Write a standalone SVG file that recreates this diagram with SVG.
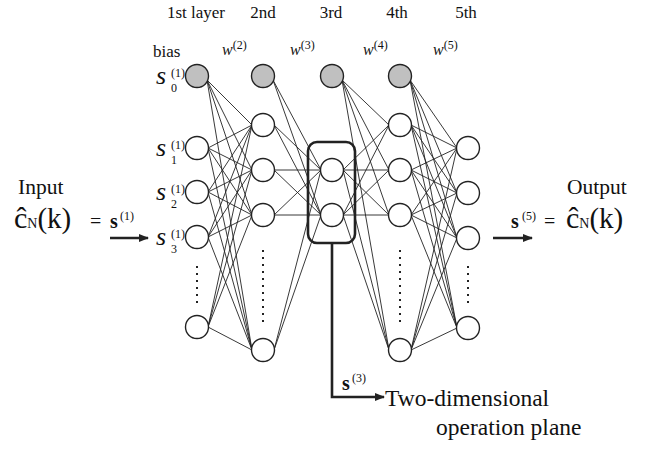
<svg xmlns="http://www.w3.org/2000/svg" width="656" height="450" viewBox="0 0 656 450">
<defs>
<style>
.t{font-family:"Liberation Serif","Times New Roman",serif;fill:#111}
.it{font-style:italic}
.b{font-weight:bold}
.c line{stroke:#222;stroke-width:0.9}
.n{fill:#fff;stroke:#222;stroke-width:1.4}
.bias{fill:#c0c0c0;stroke:#222;stroke-width:1.4}
.dots{stroke:#222;stroke-width:2;stroke-dasharray:2 5}
.thick{stroke:#222;stroke-width:2.6;fill:none}
.sl{font-size:26px}
.sup{font-size:12px}
.sub{font-size:12px}
</style>
<marker id="ah" markerWidth="10" markerHeight="8" refX="9" refY="4" orient="auto" markerUnits="userSpaceOnUse">
<path d="M0,0 L10,4 L0,8 Z" fill="#222"/>
</marker>
</defs>
<rect width="656" height="450" fill="#fff"/>

<g id="layer-titles" class="t" font-size="17" text-anchor="middle">
<text x="196" y="18">1st layer</text>
<text x="263" y="18">2nd</text>
<text x="331" y="18">3rd</text>
<text x="397" y="18">4th</text>
<text x="466" y="18">5th</text>
</g>

<g id="weights" class="t">
<text x="153" y="57" font-size="17">bias</text>
<text x="222" y="55" font-size="16"><tspan class="it">w</tspan><tspan font-size="12" dy="-6">(2)</tspan></text>
<text x="290" y="55" font-size="16"><tspan class="it">w</tspan><tspan font-size="12" dy="-6">(3)</tspan></text>
<text x="363" y="55" font-size="16"><tspan class="it">w</tspan><tspan font-size="12" dy="-6">(4)</tspan></text>
<text x="433" y="55" font-size="16"><tspan class="it">w</tspan><tspan font-size="12" dy="-6">(5)</tspan></text>
</g>

<g id="connectors" class="c">
<!-- L1 -> L2 -->
<line x1="207" y1="80" x2="252" y2="125"/><line x1="207" y1="80" x2="252" y2="170"/><line x1="207" y1="80" x2="252" y2="215"/><line x1="207" y1="80" x2="252" y2="350"/>
<line x1="208" y1="148" x2="252" y2="125"/><line x1="208" y1="148" x2="252" y2="170"/><line x1="208" y1="148" x2="252" y2="215"/><line x1="208" y1="148" x2="252" y2="350"/>
<line x1="208" y1="192" x2="252" y2="125"/><line x1="208" y1="192" x2="252" y2="170"/><line x1="208" y1="192" x2="252" y2="215"/><line x1="208" y1="192" x2="252" y2="350"/>
<line x1="208" y1="237" x2="252" y2="125"/><line x1="208" y1="237" x2="252" y2="170"/><line x1="208" y1="237" x2="252" y2="215"/><line x1="208" y1="237" x2="252" y2="350"/>
<line x1="208" y1="327" x2="252" y2="125"/><line x1="208" y1="327" x2="252" y2="170"/><line x1="208" y1="327" x2="252" y2="215"/><line x1="208" y1="327" x2="252" y2="350"/>
<!-- L2 -> L3 -->
<line x1="273" y1="80" x2="321" y2="170"/><line x1="273" y1="80" x2="321" y2="215"/>
<line x1="274" y1="125" x2="321" y2="170"/><line x1="274" y1="125" x2="321" y2="215"/>
<line x1="274" y1="170" x2="321" y2="170"/><line x1="274" y1="170" x2="321" y2="215"/>
<line x1="274" y1="215" x2="321" y2="170"/><line x1="274" y1="215" x2="321" y2="215"/>
<line x1="274" y1="350" x2="321" y2="170"/><line x1="274" y1="350" x2="321" y2="215"/>
<!-- L3 -> L4 -->
<line x1="342" y1="80" x2="389" y2="125"/><line x1="342" y1="80" x2="389" y2="170"/><line x1="342" y1="80" x2="389" y2="215"/><line x1="342" y1="80" x2="389" y2="350"/>
<line x1="343" y1="170" x2="389" y2="125"/><line x1="343" y1="170" x2="389" y2="170"/><line x1="343" y1="170" x2="389" y2="215"/><line x1="343" y1="170" x2="389" y2="350"/>
<line x1="343" y1="215" x2="389" y2="125"/><line x1="343" y1="215" x2="389" y2="170"/><line x1="343" y1="215" x2="389" y2="215"/><line x1="343" y1="215" x2="389" y2="350"/>
<!-- L4 -> L5 -->
<line x1="410" y1="80" x2="457" y2="148"/><line x1="410" y1="80" x2="457" y2="193"/><line x1="410" y1="80" x2="457" y2="238"/><line x1="410" y1="80" x2="457" y2="328"/>
<line x1="411" y1="125" x2="457" y2="148"/><line x1="411" y1="125" x2="457" y2="193"/><line x1="411" y1="125" x2="457" y2="238"/><line x1="411" y1="125" x2="457" y2="328"/>
<line x1="411" y1="170" x2="457" y2="148"/><line x1="411" y1="170" x2="457" y2="193"/><line x1="411" y1="170" x2="457" y2="238"/><line x1="411" y1="170" x2="457" y2="328"/>
<line x1="411" y1="215" x2="457" y2="148"/><line x1="411" y1="215" x2="457" y2="193"/><line x1="411" y1="215" x2="457" y2="238"/><line x1="411" y1="215" x2="457" y2="328"/>
<line x1="411" y1="350" x2="457" y2="148"/><line x1="411" y1="350" x2="457" y2="193"/><line x1="411" y1="350" x2="457" y2="238"/><line x1="411" y1="350" x2="457" y2="328"/>
</g>

<g id="layer1">
<circle id="n1-0" class="bias" cx="197" cy="76" r="11.5"/>
<circle id="n1-1" class="n" cx="197" cy="148" r="11.5"/>
<circle id="n1-2" class="n" cx="197" cy="192" r="11.5"/>
<circle id="n1-3" class="n" cx="197" cy="237" r="11.5"/>
<circle id="n1-4" class="n" cx="197" cy="327" r="11.5"/>
<line class="dots" x1="197" y1="266" x2="197" y2="305"/>
</g>
<g id="layer2">
<circle id="n2-0" class="bias" cx="263" cy="76" r="11.5"/>
<circle id="n2-1" class="n" cx="263" cy="125" r="11.5"/>
<circle id="n2-2" class="n" cx="263" cy="170" r="11.5"/>
<circle id="n2-3" class="n" cx="263" cy="215" r="11.5"/>
<circle id="n2-4" class="n" cx="263" cy="350" r="11.5"/>
<line class="dots" x1="263" y1="250" x2="263" y2="322"/>
</g>
<g id="layer3">
<circle id="n3-0" class="bias" cx="332" cy="76" r="11.5"/>
<circle id="n3-1" class="n" cx="332" cy="170" r="11.5"/>
<circle id="n3-2" class="n" cx="332" cy="215" r="11.5"/>
</g>
<g id="layer4">
<circle id="n4-0" class="bias" cx="400" cy="76" r="11.5"/>
<circle id="n4-1" class="n" cx="400" cy="125" r="11.5"/>
<circle id="n4-2" class="n" cx="400" cy="170" r="11.5"/>
<circle id="n4-3" class="n" cx="400" cy="215" r="11.5"/>
<circle id="n4-4" class="n" cx="400" cy="350" r="11.5"/>
<line class="dots" x1="400" y1="250" x2="400" y2="322"/>
</g>
<g id="layer5">
<circle id="n5-1" class="n" cx="468" cy="148" r="11.5"/>
<circle id="n5-2" class="n" cx="468" cy="193" r="11.5"/>
<circle id="n5-3" class="n" cx="468" cy="238" r="11.5"/>
<circle id="n5-4" class="n" cx="468" cy="328" r="11.5"/>
<line class="dots" x1="468" y1="266" x2="468" y2="304"/>
</g>

<g id="input-labels" class="t">
<text x="156" y="84"><tspan class="it sl">s</tspan><tspan class="sup" x="171" dy="-7.5">(1)</tspan><tspan class="sub" x="171" dy="15">0</tspan></text>
<text x="156" y="156"><tspan class="it sl">s</tspan><tspan class="sup" x="171" dy="-7.5">(1)</tspan><tspan class="sub" x="171" dy="15">1</tspan></text>
<text x="156" y="200"><tspan class="it sl">s</tspan><tspan class="sup" x="171" dy="-7.5">(1)</tspan><tspan class="sub" x="171" dy="15">2</tspan></text>
<text x="156" y="245"><tspan class="it sl">s</tspan><tspan class="sup" x="171" dy="-7.5">(1)</tspan><tspan class="sub" x="171" dy="15">3</tspan></text>
</g>

<g id="plane-box">
<rect class="thick" x="308" y="142" width="47" height="101" rx="9"/>
</g>

<g id="input">
<text class="t" x="18" y="194" font-size="21.5">Input</text>
<text class="t" x="14" y="228"><tspan font-size="30">ĉ</tspan><tspan font-size="14">N</tspan><tspan font-size="29">(k)</tspan></text>
<text class="t" x="90" y="228" font-size="20">= <tspan class="b" x="110">s</tspan><tspan class="sup" x="120" dy="-8">(1)</tspan></text>
<line class="thick" x1="110" y1="238" x2="148" y2="238" marker-end="url(#ah)"/>
</g>

<g id="output">
<text class="t" x="567" y="194" font-size="21.5">Output</text>
<text class="t" x="511" y="228" font-size="20"><tspan class="b">s</tspan><tspan class="sup" x="522" dy="-8">(5)</tspan><tspan x="544" dy="8">=</tspan></text>
<text class="t" x="566" y="228"><tspan font-size="30">ĉ</tspan><tspan font-size="14">N</tspan><tspan font-size="29">(k)</tspan></text>
<line class="thick" x1="493" y1="238" x2="532" y2="238" marker-end="url(#ah)"/>
</g>

<g id="plane-output">
<polyline class="thick" points="332,243 332,397 384,397" marker-end="url(#ah)"/>
<text class="t" x="342" y="390" font-size="20"><tspan class="b">s</tspan><tspan class="sup" x="352" dy="-8">(3)</tspan></text>
<text class="t" x="385" y="406" font-size="23.5">Two-dimensional</text>
<text class="t" x="436" y="435" font-size="23.5">operation plane</text>
</g>
</svg>
